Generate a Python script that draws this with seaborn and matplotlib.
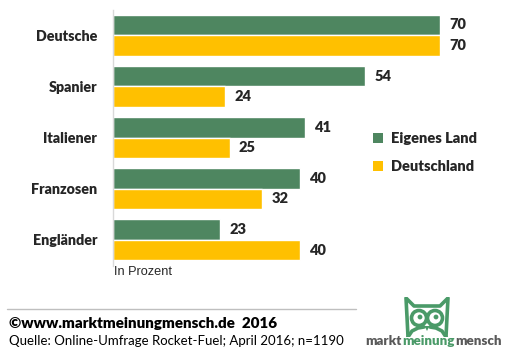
import matplotlib
matplotlib.use("Agg")
import matplotlib.pyplot as plt
import seaborn as sns
import pandas as pd
from matplotlib.patches import Circle, Polygon, Patch
from matplotlib.lines import Line2D

categories = ["Deutsche", "Spanier", "Italiener", "Franzosen", "Engländer"]
eigenes_land = [70, 54, 41, 40, 23]
deutschland = [70, 24, 25, 32, 40]
series_names = ["Eigenes Land", "Deutschland"]

GREEN = "#4E8660"
YELLOW = "#FFC000"
DARK = "#262626"
OWL = "#4A9A68"

sns.set_theme(style="white")
plt.rcParams["font.family"] = ["Lato", "DejaVu Sans"]

df = pd.DataFrame({
    "Kategorie": categories * 2,
    "Wert": eigenes_land + deutschland,
    "Serie": [series_names[0]] * len(categories) + [series_names[1]] * len(categories),
})

W, H = 519, 358
fig = plt.figure(figsize=(W / 100, H / 100), dpi=100)
ax = fig.add_axes([113 / W, 1 - 265.5 / H, (440 - 113) / W, (265.5 - 9.5) / H])

sns.barplot(data=df, y="Kategorie", x="Wert", hue="Serie", orient="h",
            palette=[GREEN, YELLOW], width=0.8, saturation=1, ax=ax, legend=False)

ax.set_xlim(0, 70)
ax.set_ylim(4.5, -0.5)
ax.set_xlabel("")
ax.set_ylabel("")
ax.set_xticks([])
for s in ["top", "right", "bottom"]:
    ax.spines[s].set_visible(False)
ax.spines["left"].set_color("#D9D9D9")
ax.spines["left"].set_linewidth(1.0)
ax.tick_params(axis="y", length=0, pad=11.5)
for lbl in ax.get_yticklabels():
    lbl.set_fontweight("heavy")
    lbl.set_fontsize(10.3)
    lbl.set_color(DARK)

for cont in ax.containers:
    ax.bar_label(cont, padding=6.5, fontsize=10.5, fontweight="heavy", color=DARK)

handles = [Patch(facecolor=GREEN, edgecolor="none"), Patch(facecolor=YELLOW, edgecolor="none")]
fig.legend(handles, series_names, loc="upper left", bbox_to_anchor=(360 / W, 1 - 119 / H),
           frameon=False, handlelength=0.65, handleheight=0.65, handletextpad=0.55,
           labelspacing=1.05, prop={"weight": "heavy", "size": 10.5}, labelcolor=DARK)

fig.text(114 / W, 1 - 272 / H, "In Prozent", fontsize=9.2, color=DARK, va="center",
         family=["Liberation Sans", "DejaVu Sans"])

fig.add_artist(Line2D([7 / W, 356 / W], [1 - 309 / H, 1 - 309 / H], color="#BFBFBF", lw=1))
fig.text(9 / W, 1 - 323 / H, "©www.marktmeinungmensch.de  2016", fontsize=10.9, fontweight="heavy",
         color="black", va="center")
fig.text(9 / W, 1 - 341 / H, "Quelle: Online-Umfrage Rocket-Fuel; April 2016; n=1190", fontsize=9.5,
         color="black", va="center")

# logo text, placed piece by piece
fig.canvas.draw()
renderer = fig.canvas.get_renderer()
x = 365
ty = 1 - 341 / H
for word, col in (("markt", "#595959"), ("meinung", OWL), ("mensch", "#595959")):
    t = fig.text(x / W, ty, word, fontsize=9.6, fontweight="heavy", color=col, va="center")
    bb = t.get_window_extent(renderer)
    x += bb.width + 1

# owl (outline style)
oax = fig.add_axes([402 / W, 1 - 337 / H, 50 / W, 40 / H])
oax.set_xlim(0, 50)
oax.set_ylim(0, 40)
oax.axis("off")
lw = 2.6
oax.plot([6, 5, 4, 12, 38, 46, 45, 44], [0, 20, 39, 31, 31, 39, 20, 0], color=OWL, lw=lw,
         solid_joinstyle="round", solid_capstyle="round")
for cx in (17, 33):
    oax.add_patch(Circle((cx, 19), 7.5, facecolor="white", edgecolor=OWL, lw=lw))
    oax.add_patch(Circle((cx + 1, 20), 2.4, facecolor=OWL, edgecolor="none"))
oax.add_patch(Polygon([[22.5, 11], [27.5, 11], [25, 6]], closed=True, facecolor=OWL, edgecolor="none"))
oax.plot([6, 10, 16, 22], [0, 6, 9, 10], color=OWL, lw=lw, solid_capstyle="round")
oax.plot([44, 40, 34, 28], [0, 6, 9, 10], color=OWL, lw=lw, solid_capstyle="round")

fig.savefig("out.png", dpi=100)
